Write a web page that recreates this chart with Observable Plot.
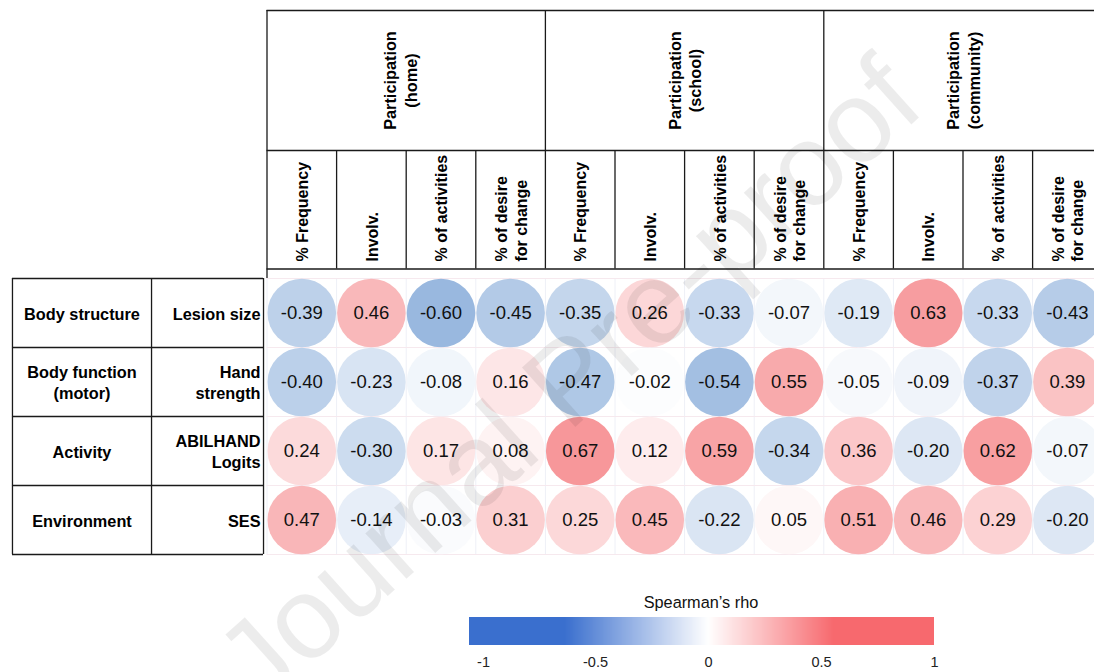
<!DOCTYPE html>
<html>
<head>
<meta charset="utf-8">
<script src="https://cdn.jsdelivr.net/npm/d3@7"></script>
<script src="https://cdn.jsdelivr.net/npm/@observablehq/plot@0.6"></script>
<style>
  body { margin: 0; background: #fff; }
  #wrap { position: relative; width: 1094px; height: 672px; overflow: hidden; font-family: "Liberation Sans", Arial, sans-serif; }
  #chart { position: absolute; left: 0; top: 0; }
  #legend-title { position: absolute; left: 601px; width: 200px; top: 594px; text-align: center; font-size: 16.3px; line-height: 17px; color: #111; }
  #legend { position: absolute; left: 454px; top: 617px; }
</style>
</head>
<body>
<div id="wrap">
  <div id="chart"></div>
  <div id="legend-title">Spearman’s rho</div>
  <div id="legend"></div>
</div>
<script>
// ---------- data ----------
const groups = ["Participation\n(home)", "Participation\n(school)", "Participation\n(community)"];
const measures = ["% Frequency", "Involv.", "% of activities", "% of desire\nfor change"];
const domains = ["Body structure", "Body function\n(motor)", "Activity", "Environment"];
const variables = ["Lesion size", "Hand\nstrength", "ABILHAND\nLogits", "SES"];
const rhoLesion = [-0.39, 0.46, -0.60, -0.45, -0.35, 0.26, -0.33, -0.07, -0.19, 0.63, -0.33, -0.43];
const rhoHand   = [-0.40, -0.23, -0.08, 0.16, -0.47, -0.02, -0.54, 0.55, -0.05, -0.09, -0.37, 0.39];
const rhoAbil   = [0.24, -0.30, 0.17, 0.08, 0.67, 0.12, 0.59, -0.34, 0.36, -0.20, 0.62, -0.07];
const rhoSes    = [0.47, -0.14, -0.03, 0.31, 0.25, 0.45, -0.22, 0.05, 0.51, 0.46, 0.29, -0.20];
const legendTicks = [-1, -0.5, 0, 0.5, 1];
const watermark = "Journal Pre-proof";

// ---------- derived tables ----------
const rhoRows = [rhoLesion, rhoHand, rhoAbil, rhoSes];
const columns = groups.flatMap((g, gi) => measures.map((m, mi) => ({group: g, measure: m, col: gi * measures.length + mi})));
const cells = rhoRows.flatMap((vals, row) => vals.map((rho, col) => ({row, col, rho})));
const nCols = columns.length, nRows = rhoRows.length;

// ---------- layout (in cell units) ----------
const yHeadTop = -3.884, yHeadMid = -1.855, yHeadBot = -0.138;
const xTableL = -3.657, xTableMid = -1.659, xTableR = -0.05;
const ink = "#1a1a1a";
const font = "'Liberation Sans', Arial, sans-serif";

const chart = Plot.plot({
  width: 1094,
  height: 672,
  x: {type: "linear", domain: [0, nCols], range: [266.5, 266.5 + nCols * 69.6], axis: null},
  y: {type: "linear", domain: [0, nRows], range: [278, 278 + nRows * 69], axis: null},
  color: {type: "linear", domain: [-1, 0, 1], range: ["#5589ca", "#ffffff", "#f36468"]},
  style: {fontFamily: font, fontSize: "16px", background: "transparent", overflow: "visible", color: "#000"},
  marks: [
    // faint cell grid
    Plot.ruleX(d3.range(0, nCols + 1), {y1: 0, y2: nRows, stroke: "#eef0f7", strokeWidth: 1}),
    Plot.ruleY(d3.range(0, nRows + 1), {x1: 0, x2: nCols, stroke: "#f6e9ee", strokeWidth: 1}),
    // circles
    Plot.dot(cells, {x: d => d.col + 0.5, y: d => d.row + 0.5, r: 34.3, fill: "rho", stroke: null}),
    Plot.text(cells, {x: d => d.col + 0.5, y: d => d.row + 0.5, text: d => d.rho.toFixed(2), fontSize: 18.5, fill: "#111"}),
    // header box
    Plot.ruleY([yHeadTop, yHeadMid, yHeadBot], {x1: 0, x2: nCols, stroke: ink, strokeWidth: 1.3}),
    Plot.ruleX([0], {y1: yHeadTop, y2: 0, stroke: ink, strokeWidth: 1.3}),
    Plot.ruleX(groups.map((g, i) => (i + 1) * measures.length), {y1: yHeadTop, y2: yHeadBot, stroke: ink, strokeWidth: 1.3}),
    Plot.ruleX(columns.filter(c => c.col % measures.length !== 0), {x: "col", y1: yHeadMid, y2: yHeadBot, stroke: ink, strokeWidth: 1.3}),
    Plot.text(groups, {x: (d, i) => i * measures.length + measures.length / 2 - (i === 0 ? 0.09 : 0), y: (yHeadTop + yHeadMid) / 2, rotate: -90, fontWeight: "bold", fontSize: 16.3, lineHeight: 1.25, fill: "#000"}),
    Plot.text(columns, {x: d => d.col + 0.5, y: -0.246, text: "measure", rotate: -90, textAnchor: "start", fontWeight: "bold", fontSize: 16, lineHeight: 1.22, fill: "#000"}),
    // left table
    Plot.ruleY(d3.range(0, nRows + 1), {x1: xTableL, x2: xTableR, stroke: ink, strokeWidth: 1.3}),
    Plot.ruleX([xTableL, xTableMid, xTableR], {y1: 0, y2: nRows, stroke: ink, strokeWidth: 1.3}),
    Plot.text(domains, {x: (xTableL + xTableMid) / 2, y: (d, i) => i + 0.5, fontWeight: "bold", fontSize: 16.3, lineHeight: 1.25, fill: "#000"}),
    Plot.text(variables, {x: -0.093, y: (d, i) => i + 0.5, textAnchor: "end", fontWeight: "bold", fontSize: 16.3, lineHeight: 1.25, fill: "#000"}),
    // watermark
    Plot.text([watermark], {x: 4.35, y: 1.5, rotate: -42, fontSize: 116, fill: "#000", fillOpacity: 0.075})
  ]
});
document.getElementById("chart").appendChild(chart);

// legend (ramp)
const legendColor = d3.scaleLinear()
  .domain([-1, -0.64, 0, 0.56, 1])
  .range(["#3a6fce", "#3a6fce", "#ffffff", "#f7696e", "#f7696e"])
  .clamp(true);
const lo = -1.06;
const legend = Plot.legend({
  color: {type: "linear", domain: [lo, 1], interpolate: t => legendColor(lo + (1 - lo) * t)},
  width: 495, height: 56, marginLeft: 15, marginRight: 15, marginTop: 0, marginBottom: 28,
  ticks: legendTicks, tickSize: 9, tickFormat: d => String(d), label: null,
  style: {fontFamily: font, fontSize: "14.5px", background: "transparent", overflow: "visible", color: "#222"}
});
const lg = d3.select(legend);
lg.selectAll(".tick line").remove();
lg.selectAll("[font-size]").attr("font-size", null);
lg.selectAll(".tick text").style("font-size", "14.5px").style("font-family", font).attr("fill", "#222");
document.getElementById("legend").appendChild(legend);
</script>
</body>
</html>
